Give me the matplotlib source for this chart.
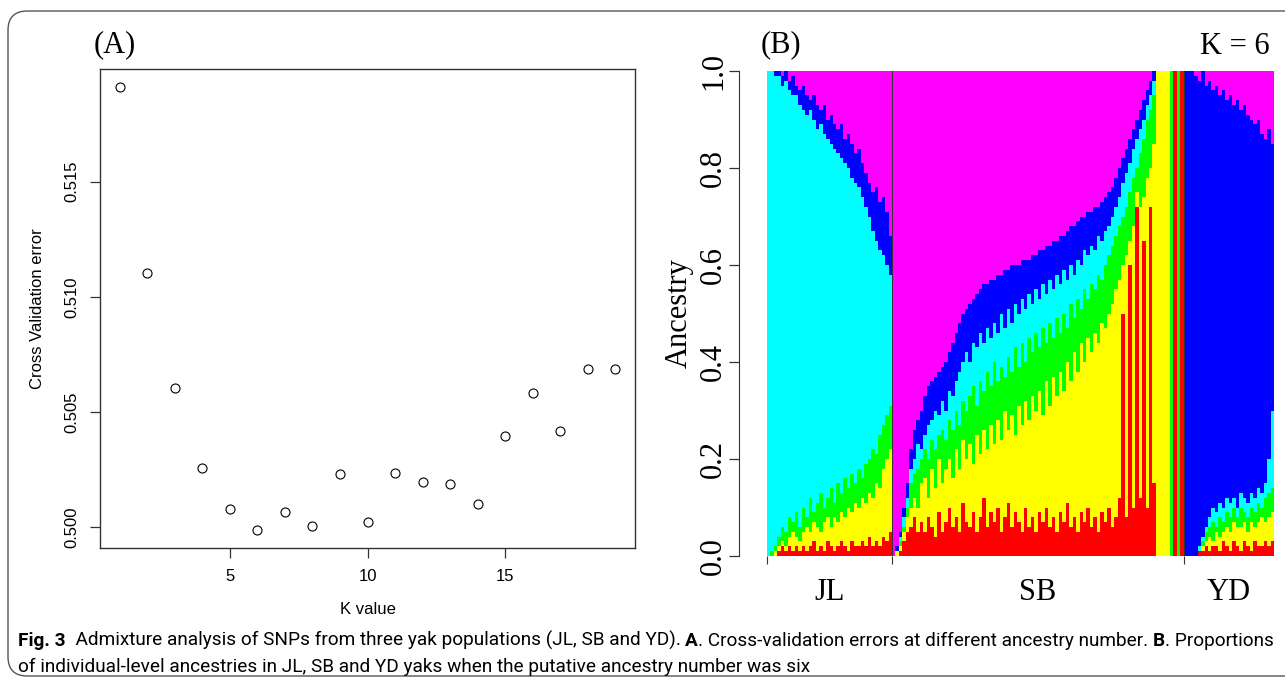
import numpy as np
import matplotlib
matplotlib.use("Agg")
import matplotlib.pyplot as plt
from matplotlib.patches import FancyBboxPatch

# ---- panel A: cross validation error vs K
k_values = list(range(1, 20))
cv_error = [0.51913, 0.51104, 0.50605, 0.50256, 0.50077, 0.49985, 0.50064,
            0.50002, 0.50229, 0.50021, 0.50232, 0.50193, 0.50187, 0.50098,
            0.50394, 0.50583, 0.50416, 0.50688, 0.50685]

# ---- panel B: admixture K=6, cumulative top of each layer per individual
# layer order from bottom: red, yellow, green, cyan, blue, (magenta fills to 1)
pops = ["JL", "SB", "YD"]

jl_blue = [1.00, 1.00, 1.00, 1.00, 0.99, 1.00, 0.98, 0.99, 0.97, 0.96, 0.97, 0.95,
           0.94, 0.95, 0.93, 0.92, 0.93, 0.90, 0.91, 0.89, 0.88, 0.89, 0.86, 0.87,
           0.85, 0.83, 0.84, 0.81, 0.79, 0.77, 0.75, 0.76, 0.73, 0.74, 0.71, 0.66]
jl_cyan = [1.00, 1.00, 0.99, 0.99, 0.97, 0.98, 0.96, 0.95, 0.95, 0.93, 0.92, 0.91,
           0.92, 0.90, 0.88, 0.89, 0.87, 0.86, 0.85, 0.84, 0.83, 0.82, 0.81, 0.80,
           0.78, 0.77, 0.76, 0.74, 0.72, 0.70, 0.67, 0.65, 0.63, 0.62, 0.60, 0.58]
jl_green = [0.00, 0.01, 0.02, 0.04, 0.06, 0.05, 0.08, 0.07, 0.09, 0.06, 0.10, 0.08,
            0.12, 0.09, 0.11, 0.13, 0.10, 0.12, 0.14, 0.11, 0.15, 0.13, 0.16, 0.14,
            0.17, 0.15, 0.18, 0.16, 0.19, 0.20, 0.22, 0.21, 0.25, 0.27, 0.29, 0.31]
jl_yellow = [0.00, 0.00, 0.01, 0.02, 0.03, 0.02, 0.04, 0.05, 0.04, 0.03, 0.05, 0.06,
             0.05, 0.07, 0.06, 0.05, 0.07, 0.08, 0.06, 0.08, 0.07, 0.09, 0.08, 0.10,
             0.09, 0.11, 0.10, 0.12, 0.11, 0.13, 0.12, 0.15, 0.14, 0.18, 0.20, 0.22]
jl_red = [0.00, 0.00, 0.00, 0.01, 0.02, 0.01, 0.02, 0.01, 0.02, 0.01, 0.02, 0.01,
          0.02, 0.03, 0.01, 0.02, 0.01, 0.03, 0.02, 0.01, 0.02, 0.03, 0.02, 0.01,
          0.03, 0.02, 0.02, 0.03, 0.02, 0.04, 0.02, 0.03, 0.02, 0.04, 0.03, 0.05]

sb_blue = [0.00, 0.02, 0.05, 0.10, 0.15, 0.22, 0.26, 0.28, 0.30, 0.33, 0.35, 0.36,
           0.37, 0.38, 0.39, 0.40, 0.42, 0.44, 0.46, 0.48, 0.50, 0.51, 0.52, 0.53,
           0.54, 0.55, 0.56, 0.56, 0.57, 0.57, 0.58, 0.58, 0.59, 0.59, 0.60, 0.60,
           0.60, 0.61, 0.61, 0.61, 0.62, 0.62, 0.63, 0.63, 0.64, 0.64, 0.65, 0.65,
           0.66, 0.66, 0.67, 0.68, 0.68, 0.69, 0.70, 0.70, 0.71, 0.71, 0.72, 0.72,
           0.73, 0.74, 0.75, 0.76, 0.78, 0.80, 0.82, 0.84, 0.86, 0.88, 0.90, 0.92,
           0.94, 0.96, 0.98, 1.00, 1.00, 1.00, 1.00, 1.00, 1.00, 1.00, 1.00, 1.00]
sb_cyan = [0.00, 0.01, 0.04, 0.08, 0.12, 0.18, 0.20, 0.23, 0.22, 0.25, 0.27, 0.28,
           0.30, 0.29, 0.32, 0.30, 0.34, 0.33, 0.36, 0.38, 0.40, 0.42, 0.40, 0.44,
           0.43, 0.46, 0.44, 0.47, 0.45, 0.48, 0.46, 0.50, 0.47, 0.51, 0.48, 0.52,
           0.50, 0.53, 0.51, 0.54, 0.52, 0.55, 0.53, 0.56, 0.54, 0.57, 0.55, 0.58,
           0.56, 0.59, 0.57, 0.60, 0.58, 0.61, 0.60, 0.63, 0.62, 0.64, 0.63, 0.66,
           0.65, 0.67, 0.68, 0.70, 0.72, 0.74, 0.77, 0.79, 0.81, 0.84, 0.86, 0.88,
           0.90, 0.93, 0.95, 0.98, 1.00, 1.00, 1.00, 1.00, 1.00, 1.00, 1.00, 1.00]
sb_green = [0.00, 0.01, 0.03, 0.06, 0.10, 0.15, 0.17, 0.18, 0.20, 0.22, 0.20, 0.24,
            0.22, 0.25, 0.26, 0.24, 0.28, 0.26, 0.30, 0.27, 0.32, 0.30, 0.33, 0.35,
            0.31, 0.36, 0.34, 0.38, 0.35, 0.40, 0.36, 0.39, 0.37, 0.41, 0.38, 0.43,
            0.39, 0.44, 0.40, 0.45, 0.42, 0.46, 0.43, 0.47, 0.44, 0.48, 0.45, 0.49,
            0.46, 0.50, 0.47, 0.52, 0.49, 0.53, 0.51, 0.55, 0.53, 0.56, 0.55, 0.58,
            0.57, 0.60, 0.62, 0.64, 0.66, 0.68, 0.70, 0.72, 0.75, 0.78, 0.80, 0.83,
            0.86, 0.90, 0.92, 0.95, 1.00, 1.00, 1.00, 1.00, 1.00, 1.00, 1.00, 1.00]
sb_yellow = [0.00, 0.01, 0.02, 0.05, 0.08, 0.10, 0.12, 0.10, 0.15, 0.16, 0.12, 0.18,
             0.14, 0.20, 0.15, 0.18, 0.20, 0.16, 0.22, 0.18, 0.24, 0.20, 0.23, 0.19,
             0.25, 0.21, 0.26, 0.22, 0.27, 0.23, 0.28, 0.24, 0.30, 0.26, 0.29, 0.25,
             0.31, 0.27, 0.32, 0.28, 0.33, 0.30, 0.34, 0.29, 0.36, 0.31, 0.37, 0.33,
             0.38, 0.34, 0.40, 0.36, 0.42, 0.38, 0.44, 0.40, 0.45, 0.42, 0.46, 0.44,
             0.48, 0.47, 0.50, 0.52, 0.55, 0.57, 0.60, 0.62, 0.65, 0.68, 0.75, 0.72,
             0.74, 0.78, 0.80, 0.85, 1.00, 1.00, 1.00, 1.00, 0.00, 1.00, 0.00, 1.00]
sb_red = [0.00, 0.00, 0.01, 0.03, 0.05, 0.06, 0.08, 0.05, 0.07, 0.05, 0.08, 0.06,
          0.04, 0.09, 0.05, 0.07, 0.10, 0.06, 0.08, 0.05, 0.11, 0.07, 0.06, 0.09,
          0.05, 0.08, 0.12, 0.06, 0.09, 0.07, 0.10, 0.05, 0.08, 0.11, 0.06, 0.09,
          0.07, 0.05, 0.10, 0.06, 0.08, 0.05, 0.09, 0.07, 0.10, 0.06, 0.08, 0.05,
          0.09, 0.07, 0.11, 0.06, 0.08, 0.05, 0.09, 0.07, 0.10, 0.06, 0.08, 0.05,
          0.09, 0.07, 0.10, 0.06, 0.08, 0.12, 0.50, 0.08, 0.60, 0.10, 0.72, 0.12,
          0.65, 0.10, 0.72, 0.15, 0.00, 0.00, 0.00, 0.00, 0.00, 1.00, 0.00, 1.00]

yd_blue = [1.00, 1.00, 1.00, 0.99, 0.98, 1.00, 0.97, 0.98, 0.96, 0.97, 0.95, 0.96,
           0.94, 0.95, 0.93, 0.94, 0.92, 0.93, 0.91, 0.90, 0.89, 0.90, 0.87, 0.86,
           0.88, 0.85]
yd_cyan = [0.00, 0.00, 0.00, 0.00, 0.02, 0.04, 0.06, 0.08, 0.10, 0.09, 0.11, 0.10,
           0.12, 0.11, 0.12, 0.10, 0.13, 0.12, 0.11, 0.13, 0.12, 0.14, 0.13, 0.15,
           0.20, 0.30]
yd_green = [0.00, 0.00, 0.00, 0.00, 0.01, 0.03, 0.05, 0.06, 0.07, 0.06, 0.08, 0.07,
            0.09, 0.08, 0.10, 0.08, 0.10, 0.09, 0.08, 0.10, 0.09, 0.11, 0.10, 0.12,
            0.13, 0.14]
yd_yellow = [0.00, 0.00, 0.00, 0.00, 0.01, 0.02, 0.03, 0.04, 0.03, 0.05, 0.04, 0.05,
             0.06, 0.05, 0.07, 0.06, 0.06, 0.07, 0.05, 0.07, 0.06, 0.07, 0.08, 0.07,
             0.08, 0.09]
yd_red = [0.00, 0.00, 0.00, 0.00, 0.01, 0.01, 0.02, 0.01, 0.02, 0.02, 0.01, 0.03,
          0.02, 0.01, 0.03, 0.02, 0.01, 0.03, 0.02, 0.01, 0.03, 0.02, 0.02, 0.03,
          0.02, 0.03]

layer_colors = {"blue": "#0000FF", "cyan": "#00FFFF", "green": "#00FF00",
                "yellow": "#FFFF00", "red": "#FF0000"}

W, H = 1285, 683
fig = plt.figure(figsize=(W / 100, H / 100), dpi=100)

def fx(px): return px / W
def fy(py): return 1 - py / H

# outer frame (right side runs off the picture)
frame = FancyBboxPatch((fx(8), fy(676)), fx(1400), fy(11) - fy(676),
                       boxstyle="round,pad=0,rounding_size=0.015",
                       transform=fig.transFigure, fill=False,
                       edgecolor="#555555", lw=1.0, mutation_aspect=W / H)
fig.patches.append(frame)

# ---------------- panel A
sans = "Liberation Sans"
axA = fig.add_axes([fx(100), fy(548), fx(535), fy(69) - fy(548)])
axA.plot(k_values, cv_error, "o", mfc="none", mec="black", ms=6.5, mew=0.8)
xr = max(k_values) - min(k_values)
yr = max(cv_error) - min(cv_error)
axA.set_xlim(min(k_values) - 0.04 * xr, max(k_values) + 0.04 * xr)
axA.set_ylim(min(cv_error) - 0.04 * yr, max(cv_error) + 0.04 * yr)
axA.set_xticks([5, 10, 15])
axA.set_yticks([0.500, 0.505, 0.510, 0.515])
axA.set_xticklabels(["5", "10", "15"], family=sans, fontsize=12)
axA.set_yticklabels(["0.500", "0.505", "0.510", "0.515"], family=sans,
                    fontsize=12, rotation=90, va="center")
axA.tick_params(length=7, width=0.9, color="#333333", pad=8)
for s in axA.spines.values():
    s.set_color("#333333")
    s.set_linewidth(1.0)
axA.set_xlabel("K value", family=sans, fontsize=12, labelpad=13)
axA.set_ylabel("Cross Validation error", family=sans, fontsize=12, labelpad=14)
fig.text(fx(94), fy(45), "(A)", family="Liberation Serif", fontsize=22,
         va="center", ha="left")

# ---------------- panel B
serif = "Liberation Serif"
axB = fig.add_axes([fx(767), fy(556), fx(507), fy(71) - fy(556)])
blue = jl_blue + sb_blue + yd_blue
cyan = jl_cyan + sb_cyan + yd_cyan
green = jl_green + sb_green + yd_green
yellow = jl_yellow + sb_yellow + yd_yellow
red = jl_red + sb_red + yd_red
n = len(blue)
x = np.arange(n) + 0.5
axB.bar(x, np.ones(n), width=1.0, color="#FF00FF", lw=0)
for name, vals in [("blue", blue), ("cyan", cyan), ("green", green),
                   ("yellow", yellow), ("red", red)]:
    axB.bar(x, vals, width=1.0, color=layer_colors[name], lw=0)

sizes = [len(jl_blue), len(sb_blue), len(yd_blue)]
edges = np.concatenate([[0], np.cumsum(sizes)])
for e in edges[1:-1]:
    axB.axvline(e, color="#333333", lw=0.7)
axB.set_xlim(0, n)
axB.set_ylim(0, 1)
axB.set_xticks(edges[:-1])
axB.set_xticklabels([])
axB.tick_params(axis="x", length=6, width=0.8, color="#333333")
for i, p in enumerate(pops):
    axB.text((edges[i] + edges[i + 1]) / 2, -0.045, p, family=serif,
             fontsize=22, ha="center", va="top",
             transform=axB.get_xaxis_transform())
for side in ["top", "right", "bottom"]:
    axB.spines[side].set_visible(False)
axB.spines["left"].set_position(("outward", 20))
axB.spines["left"].set_bounds(0, 1)
axB.spines["left"].set_color("#333333")
axB.set_yticks([0, 0.2, 0.4, 0.6, 0.8, 1.0])
axB.set_yticklabels(["0.0", "0.2", "0.4", "0.6", "0.8", "1.0"], family=serif,
                    fontsize=22, rotation=90, va="center")
axB.tick_params(axis="y", length=7, width=0.9, color="#333333", pad=1)
axB.set_ylabel("Ancestry", family=serif, fontsize=22)
axB.yaxis.set_label_coords(-0.145, 0.5)
fig.text(fx(1270), fy(47), "K = 6", family=serif, fontsize=22,
         ha="right", va="center")
fig.text(fx(761), fy(45), "(B)", family=serif, fontsize=22,
         va="center", ha="left")

# ---------------- caption
cap_font = ["Liberation Sans Narrow", "Roboto"]
line1 = [("Fig. 3", "bold"),
         ("  Admixture analysis of SNPs from three yak populations (JL, SB and YD). ", "normal"),
         ("A", "bold"),
         (". Cross-validation errors at different ancestry number. ", "normal"),
         ("B", "bold"),
         (". Proportions", "normal")]
line2 = [("of individual-level ancestries in JL, SB and YD yaks when the putative ancestry number was six", "normal")]

renderer = fig.canvas.get_renderer()

def draw_runs(runs, x0, y0, size):
    xpos = x0
    texts = []
    for s, w in runs:
        t = fig.text(fx(xpos), fy(y0), s, family=cap_font, fontsize=size,
                     fontweight=w, va="baseline", ha="left")
        wpx = t.get_window_extent(renderer).width
        xpos += wpx
        texts.append(t)
    return texts, xpos - x0

ts, width = draw_runs(line1, 18, 646, 12)
for t in ts:
    t.remove()
size = 12 * (1254 / width)
draw_runs(line1, 18, 646, size)
draw_runs(line2, 18, 672, size)

fig.savefig("out.png", dpi=100)
